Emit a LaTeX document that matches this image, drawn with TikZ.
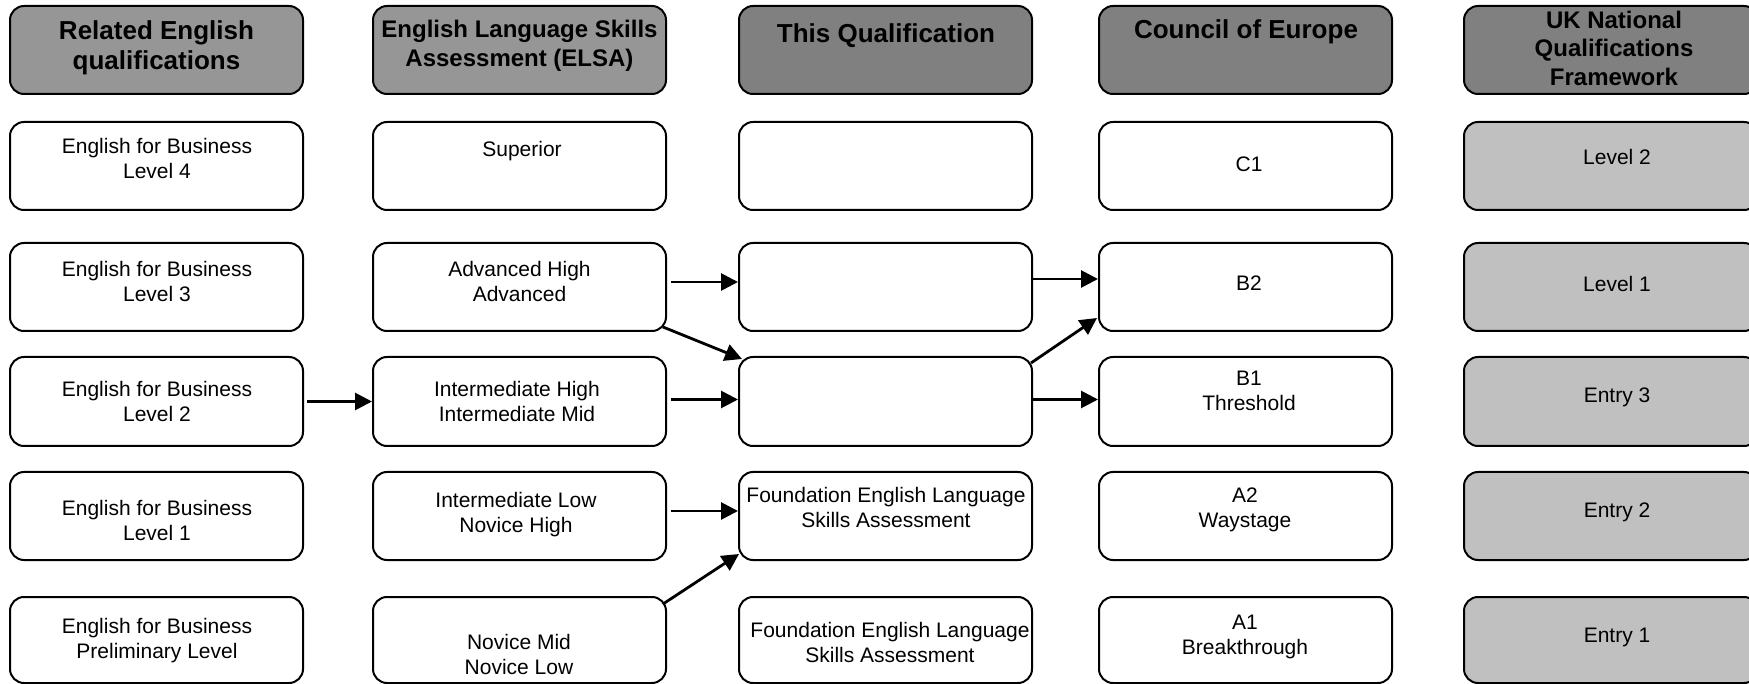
\documentclass[tikz,border=0pt]{standalone}
\usepackage{fontspec}
\setmainfont{Liberation Sans}
\usetikzlibrary{arrows.meta,calc}
\definecolor{hdlight}{HTML}{969696}
\definecolor{hddark}{HTML}{808080}
\definecolor{ukgray}{HTML}{C0C0C0}
\begin{document}
\begin{tikzpicture}[x=1pt,y=-1pt,
  box/.style={draw=black, line width=2pt, rounded corners=14pt, minimum width=293pt, minimum height=88pt, inner sep=0pt, fill=white},
  hdA/.style={box, fill=hdlight},
  hdB/.style={box, fill=hddark},
  ukbox/.style={box, fill=ukgray, minimum width=294pt},
  txt/.style={align=center, font=\fontsize{21}{25}\selectfont, inner sep=0pt},
  htxt/.style={align=center, font=\fontsize{26}{30}\selectfont\bfseries, inner sep=0pt},
  hstxt/.style={align=center, font=\fontsize{24}{28.5}\selectfont\bfseries, inner sep=0pt},
  arr/.style={line width=2.8pt, -{Triangle[length=17pt,width=17pt]}}]
\useasboundingbox (0,0) rectangle (1749,684);
% headers
\node[hdA] (h1) at (156.5,50) {};
\node[hdA] (h2) at (519.5,50) {};
\node[hdB] (h3) at (885.5,50) {};
\node[hdB] (h4) at (1245.5,50) {};
\node[hdB,minimum width=294pt] (h5) at (1611,50) {};
\node[htxt] (ht1) at (156.5,48) {Related English\\qualifications};
\node[hstxt] (ht2) at (519.5,46) {English Language Skills\\Assessment (ELSA)};
\node[htxt] (ht3) at (886,36) {This Qualification};
\node[htxt] (ht4) at (1246,32) {Council of Europe};
\node[hstxt] (ht5) at (1614,48) {UK National\\Qualifications\\Framework};
% row 1
\node[box] (b11) at (156.5,166) {};
\node[box] (b21) at (519.5,166) {};
\node[box] (b31) at (885.5,166) {};
\node[box] (b41) at (1245.5,166) {};
\node[ukbox] (b51) at (1611,166) {};
% row 2
\node[box] (b12) at (156.5,287) {};
\node[box] (b22) at (519.5,287) {};
\node[box] (b32) at (885.5,287) {};
\node[box] (b42) at (1245.5,287) {};
\node[ukbox] (b52) at (1611,287) {};
% row 3
\node[box,minimum height=89pt] (b13) at (156.5,401.5) {};
\node[box,minimum height=89pt] (b23) at (519.5,401.5) {};
\node[box,minimum height=89pt] (b33) at (885.5,401.5) {};
\node[box,minimum height=89pt] (b43) at (1245.5,401.5) {};
\node[ukbox,minimum height=89pt] (b53) at (1611,401.5) {};
% row 4
\node[box] (b14) at (156.5,516) {};
\node[box] (b24) at (519.5,516) {};
\node[box] (b34) at (885.5,516) {};
\node[box] (b44) at (1245.5,516) {};
\node[ukbox] (b54) at (1611,516) {};
% row 5
\node[box,minimum height=86pt] (b15) at (156.5,640) {};
\node[box,minimum height=86pt] (b25) at (519.5,640) {};
\node[box,minimum height=86pt] (b35) at (885.5,640) {};
\node[box,minimum height=86pt] (b45) at (1245.5,640) {};
\node[ukbox,minimum height=86pt] (b55) at (1611,640) {};
% texts
\node[txt] (t11) at (157,158.5) {English for Business\\Level 4};
\node[txt] (t21) at (522,151) {Superior};
\node[txt] (t41) at (1249,164) {C1};
\node[txt] (t51) at (1617,157) {Level 2};
\node[txt] (t12) at (157,281) {English for Business\\Level 3};
\node[txt] (t22) at (519.5,281) {Advanced High\\Advanced};
\node[txt] (t42) at (1249,283) {B2};
\node[txt] (t52) at (1617,284) {Level 1};
\node[txt] (t13) at (157,401.5) {English for Business\\Level 2};
\node[txt] (t23) at (517,401.5) {Intermediate High\\Intermediate Mid};
\node[txt] (t43) at (1249,391) {B1\\Threshold};
\node[txt] (t53) at (1617,397) {Entry 3};
\node[txt] (t14) at (157,520) {English for Business\\Level 1};
\node[txt] (t24) at (516,515) {Intermediate Low\\Novice High};
\node[txt] (t34) at (886,507) {Foundation English Language\\Skills Assessment};
\node[txt] (t44) at (1245,510) {A2\\Waystage};
\node[txt] (t54) at (1617,512) {Entry 2};
\node[txt] (t15) at (157,641) {English for Business\\Preliminary Level};
\node[txt] (t25) at (519,654) {Novice Mid\\Novice Low};
\node[txt] (t35) at (890,642) {Foundation English Language\\Skills Assessment};
\node[txt] (t45) at (1245,637) {A1\\Breakthrough};
\node[txt] (t55) at (1617,637) {Entry 1};
% arrows
\draw[arr] ([xshift=3pt]b13.east) -- (b23.west);
\draw[arr] ([xshift=4pt,yshift=5pt]b22.east) -- ([yshift=5pt]b32.west);
\draw[arr] ([yshift=8pt]b32.east) -- ([yshift=8pt]b42.west);
\draw[arr] ($(b22.south east)+(-4,-5)$) -- ($(b33.north west)+(4,3)$);
\draw[arr] ($(b33.north east)+(-2,7)$) -- ($(b42.south west)+(-1,-14)$);
\draw[arr] ([xshift=4pt,yshift=2pt]b23.east) -- ([yshift=2pt]b33.west);
\draw[arr] ([yshift=2pt]b33.east) -- ([yshift=2pt]b43.west);
\draw[arr] ([xshift=4pt,yshift=5pt]b24.east) -- ([yshift=5pt]b34.west);
\draw[arr] ($(b25.north east)+(-4,8)$) -- ($(b34.south west)+(1,-7)$);
\end{tikzpicture}
\end{document}
